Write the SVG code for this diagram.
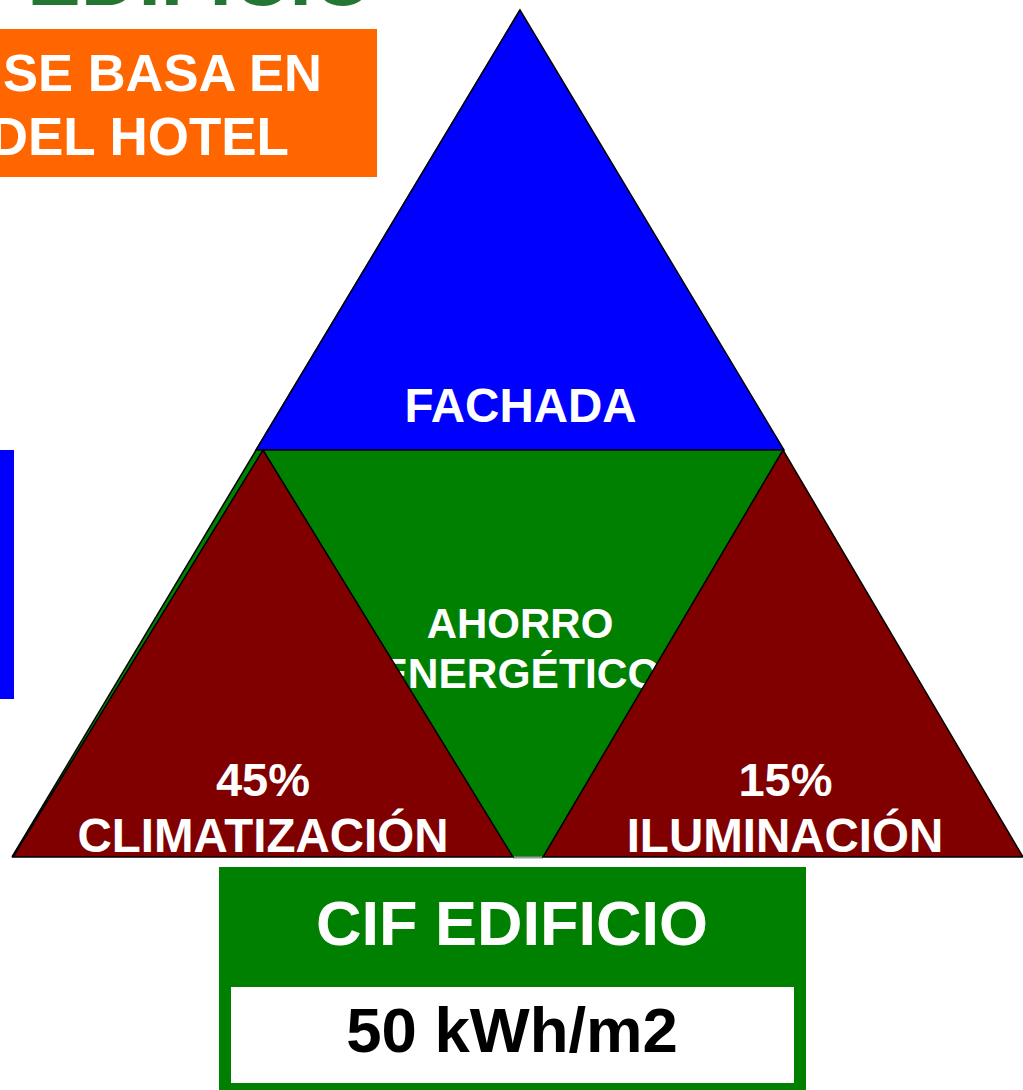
<svg xmlns="http://www.w3.org/2000/svg" width="1023" height="1090" viewBox="0 0 1023 1090">
  <style>
    .t { font-family: "Liberation Sans", Arial, sans-serif; font-weight: bold; text-anchor: middle; }
    .e { font-family: "Liberation Sans", Arial, sans-serif; font-weight: bold; text-anchor: end; }
    .w { fill: #ffffff; }
    .edge { stroke: #000000; stroke-width: 1.5; stroke-linejoin: miter; }
  </style>
  <rect x="0" y="0" width="1023" height="1090" fill="#ffffff"/>

  <g id="title">
    <text x="374" y="5" font-size="80" fill="#247733" class="e">EDIFICIO</text>
  </g>

  <g id="orange-note">
    <rect x="-10" y="29" width="387" height="148" fill="#ff6600"/>
    <text x="322" y="91" font-size="52.5" class="e w">SE BASA EN</text>
    <text x="289" y="155" font-size="53" class="e w">DEL HOTEL</text>
  </g>

  <g id="blue-bar">
    <rect x="-5" y="450" width="19" height="249" fill="#0000ff"/>
  </g>

  <g id="ahorro">
    <polygon points="520,10 12,857 1022,857" fill="#008000"/>
    <path d="M520,10 L12,857" class="edge" fill="none"/>
    <line x1="513" y1="857.5" x2="543" y2="857.5" stroke="#999999" stroke-width="2"/>
    <text x="520" y="638" font-size="42" class="t w">AHORRO</text>
    <text x="520" y="688" font-size="42.5" class="t w">ENERGÉTICO</text>
  </g>

  <g id="fachada">
    <polygon points="520,10 256,450 784,450" fill="#0000ff" class="edge"/>
    <text x="520.5" y="422" font-size="47.5" class="t w">FACHADA</text>
  </g>

  <g id="climatizacion">
    <polygon points="263,450 13,857 513,857" fill="#800000" class="edge"/>
    <text x="263" y="796" font-size="47" class="t w">45%</text>
    <text x="263" y="852" font-size="47.5" class="t w">CLIMATIZACIÓN</text>
  </g>

  <g id="iluminacion">
    <polygon points="783,450 543,857 1023,857" fill="#800000" class="edge"/>
    <text x="785.5" y="796" font-size="47" class="t w">15%</text>
    <text x="785" y="852" font-size="47.5" class="t w">ILUMINACIÓN</text>
  </g>

  <g id="cif-edificio">
    <rect x="219" y="867" width="587" height="230" fill="#008000"/>
    <text x="512" y="945" font-size="63" class="t w">CIF EDIFICIO</text>
    <rect x="231" y="987" width="563" height="96" fill="#ffffff"/>
    <text x="512" y="1052" font-size="63.5" class="t" fill="#000000">50 kWh/m2</text>
  </g>

  <g id="connectors"></g>
</svg>
